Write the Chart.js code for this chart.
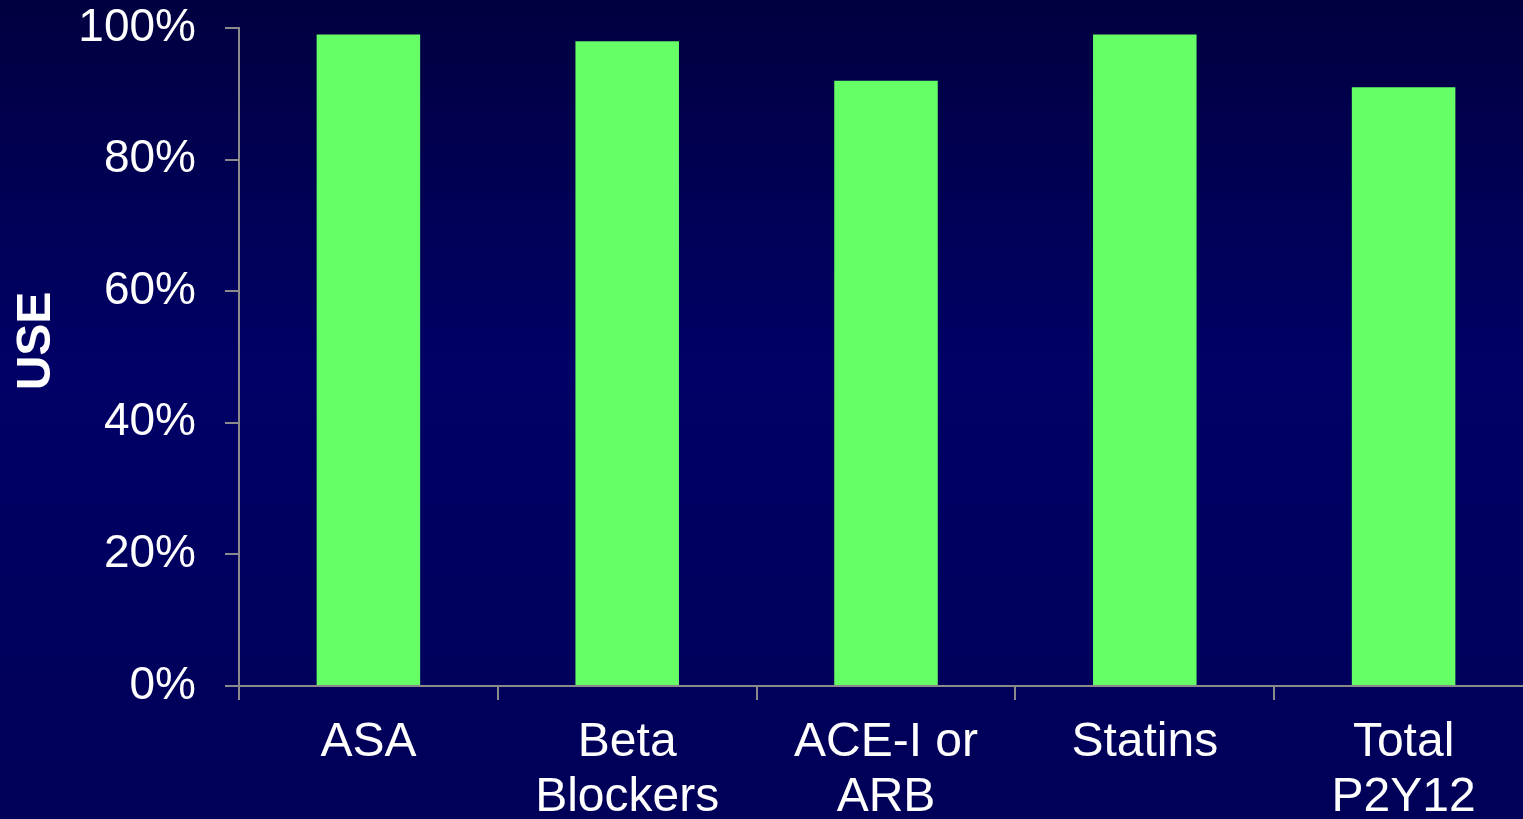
<!DOCTYPE html>
<html>
<head>
<meta charset="utf-8">
<script src="https://cdn.jsdelivr.net/npm/chart.js@4.4.1/dist/chart.umd.min.js"></script>
<style>
  html, body { margin: 0; padding: 0; overflow: hidden; background: #000050; }
  #wrap { position: relative; width: 1533px; height: 860px; }
</style>
</head>
<body>
<div id="wrap"><canvas id="c"></canvas></div>
<script>
// Medication use by class
const categories = [["ASA"], ["Beta", "Blockers"], ["ACE-I or", "ARB"], ["Statins"], ["Total", "P2Y12"]];
const useValues = [99, 98, 92, 99, 91];
const yTicks = [0, 20, 40, 60, 80, 100];
const yAxisTitle = "USE";

const FONT = "'Liberation Sans', Arial, sans-serif";
const AXIS_GRAY = "#8a8a8a";

const backdrop = {
  id: "backdrop",
  beforeDraw(chart) {
    const { ctx, width, height } = chart;
    const g = ctx.createLinearGradient(0, 0, 0, 819);
    g.addColorStop(0, "#000040");
    g.addColorStop(0.45, "#000066");
    g.addColorStop(1, "#000058");
    ctx.save();
    ctx.fillStyle = g;
    ctx.fillRect(0, 0, width, height);
    ctx.restore();
  }
};

// Rotated axis title, sitting a little above the middle of the value axis
const sideTitle = {
  id: "sideTitle",
  afterDraw(chart) {
    const { ctx } = chart;
    ctx.save();
    ctx.translate(36.5, 341);
    ctx.rotate(-Math.PI / 2);
    ctx.fillStyle = "#ffffff";
    ctx.font = "bold 48px " + FONT;
    ctx.textAlign = "center";
    ctx.textBaseline = "middle";
    ctx.fillText(yAxisTitle, 0, 0);
    ctx.restore();
  }
};

new Chart(document.getElementById("c"), {
  type: "bar",
  data: {
    labels: categories,
    datasets: [{
      label: yAxisTitle,
      data: useValues,
      backgroundColor: "#66ff66",
      borderWidth: 0,
      barPercentage: 0.4,
      categoryPercentage: 1
    }]
  },
  options: {
    responsive: true,
    maintainAspectRatio: false,
    animation: false,
    devicePixelRatio: 1,
    layout: { padding: { top: 28, left: 0, right: 0, bottom: 0 } },
    plugins: {
      legend: { display: false },
      tooltip: { enabled: false }
    },
    scales: {
      x: {
        grid: {
          display: true,
          offset: true,
          drawOnChartArea: false,
          drawTicks: true,
          tickLength: 14,
          color: AXIS_GRAY,
          lineWidth: 2
        },
        border: { display: true, color: AXIS_GRAY, width: 2 },
        ticks: {
          color: "#ffffff",
          font: { family: FONT, size: 48, lineHeight: 1.15 },
          padding: 15,
          maxRotation: 0,
          autoSkip: false
        },
        afterFit(scale) {
          scale.height = 860 - 686;
          scale.paddingLeft = 0;
          scale.paddingRight = 0;
        }
      },
      y: {
        min: 0,
        max: 100,
        afterBuildTicks(scale) { scale.ticks = yTicks.map(v => ({ value: v })); },
        grid: {
          display: true,
          drawOnChartArea: false,
          drawTicks: true,
          tickLength: 14,
          color: AXIS_GRAY,
          lineWidth: 2
        },
        border: { display: true, color: AXIS_GRAY, width: 2 },
        ticks: {
          color: "#ffffff",
          font: { family: FONT, size: 46 },
          padding: 29,
          callback: v => v + "%"
        },
        afterFit(scale) {
          scale.width = 239;
          scale.paddingTop = 0;
          scale.paddingBottom = 0;
        }
      }
    }
  },
  plugins: [backdrop, sideTitle]
});
</script>
</body>
</html>
